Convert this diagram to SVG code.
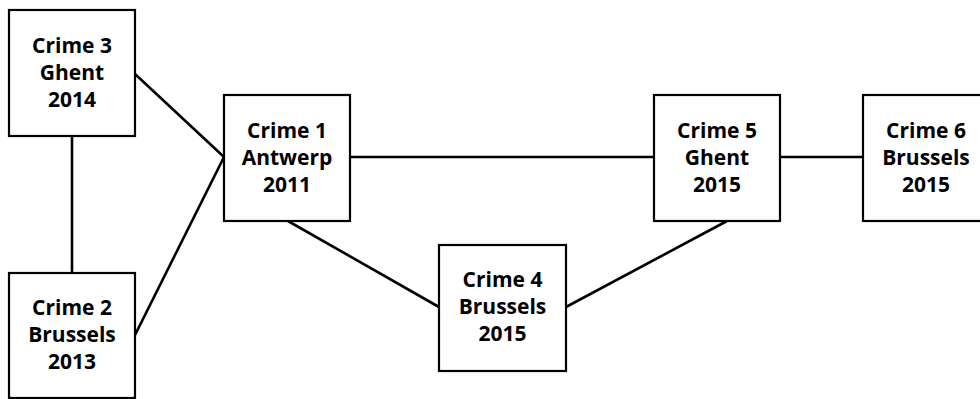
<svg xmlns="http://www.w3.org/2000/svg" width="980" height="399" viewBox="0 0 980 399">
  <style>
    .box { fill: #ffffff; stroke: #000000; stroke-width: 2.2; }
    .edge { stroke: #000000; stroke-width: 2.6; fill: none; stroke-linecap: butt; }
    .lbl { font-family: "Open Sans", Lato, "Liberation Sans", sans-serif; font-weight: bold; font-size: 21px; fill: #000000; text-anchor: middle; }
  </style>
  <rect width="980" height="399" fill="#ffffff"/>

  <!-- links between crimes -->
  <g id="connectors">
    <line class="edge" x1="135" y1="74" x2="224" y2="157"/>
    <line class="edge" x1="135" y1="335" x2="224" y2="157"/>
    <line class="edge" x1="72" y1="136" x2="72" y2="273"/>
    <line class="edge" x1="350" y1="157" x2="654" y2="157"/>
    <line class="edge" x1="288" y1="221" x2="439" y2="307"/>
    <line class="edge" x1="566" y1="307" x2="727" y2="221"/>
    <line class="edge" x1="780" y1="157" x2="863" y2="157"/>
  </g>

  <g id="crime3">
    <rect class="box" x="9" y="10" width="126" height="126"/>
    <text class="lbl" x="72" y="52.5">Crime 3</text>
    <text class="lbl" x="72" y="80">Ghent</text>
    <text class="lbl" x="72" y="107">2014</text>
  </g>

  <g id="crime2">
    <rect class="box" x="9" y="273" width="126" height="125"/>
    <text class="lbl" x="72" y="314.5">Crime 2</text>
    <text class="lbl" x="72" y="342">Brussels</text>
    <text class="lbl" x="72" y="369">2013</text>
  </g>

  <g id="crime1">
    <rect class="box" x="224" y="95" width="126" height="126"/>
    <text class="lbl" x="287" y="137.5">Crime 1</text>
    <text class="lbl" x="287" y="165">Antwerp</text>
    <text class="lbl" x="287" y="192">2011</text>
  </g>

  <g id="crime4">
    <rect class="box" x="439" y="245" width="127" height="126"/>
    <text class="lbl" x="502.5" y="286.5">Crime 4</text>
    <text class="lbl" x="502.5" y="314">Brussels</text>
    <text class="lbl" x="502.5" y="341">2015</text>
  </g>

  <g id="crime5">
    <rect class="box" x="654" y="95" width="126" height="126"/>
    <text class="lbl" x="717" y="137.5">Crime 5</text>
    <text class="lbl" x="717" y="165">Ghent</text>
    <text class="lbl" x="717" y="192">2015</text>
  </g>

  <g id="crime6">
    <rect class="box" x="863" y="95" width="126" height="126"/>
    <text class="lbl" x="926" y="137.5">Crime 6</text>
    <text class="lbl" x="926" y="165">Brussels</text>
    <text class="lbl" x="926" y="192">2015</text>
  </g>
</svg>
